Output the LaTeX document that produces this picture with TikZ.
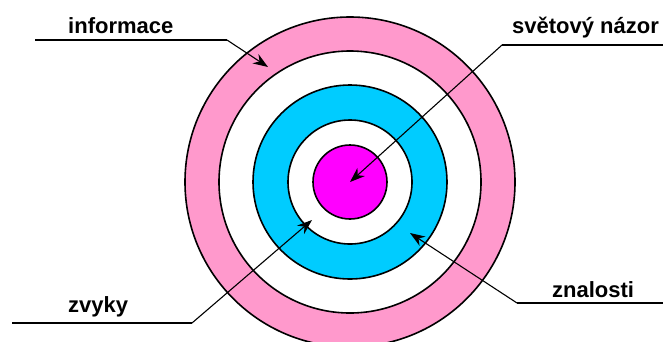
\documentclass[tikz,border=0pt]{standalone}
\usepackage{fontspec}
\setmainfont{Liberation Sans}
\usetikzlibrary{arrows.meta}
\definecolor{ringpink}{HTML}{FF99CC}
\definecolor{ringblue}{HTML}{00CCFF}
\definecolor{ringmag}{HTML}{FF00FF}

\begin{document}
\begin{tikzpicture}[x=1pt,y=-1pt,
  ring/.style={draw=black,line width=1.6pt},
  lbl/.style={anchor=base west,inner sep=0pt,font=\fontsize{22}{25}\selectfont\bfseries},
  rule/.style={line width=2pt},
  pointer/.style={line width=1.1pt,-{Stealth[length=15pt,width=11pt]}}]
\useasboundingbox (0,0) rectangle (663,341);
\begin{scope}
\clip (0,0) rectangle (663,341);
\coordinate (c) at (350,182);
% rings, outside in
\fill[ringpink,ring] (c) circle[radius=165pt];
\fill[white,ring] (c) circle[radius=131pt];
\fill[ringblue,ring] (c) circle[radius=97pt];
\fill[white,ring] (c) circle[radius=62pt];
\fill[ringmag,ring] (c) circle[radius=37pt];
\end{scope}
% labels
\node[lbl] (inf) at (68,33) {informace};
\node[lbl] (nazor) at (512,33) {světový názor};
\node[lbl] (zvyky) at (68,312) {zvyky};
\node[lbl] (znal) at (552,297) {znalosti};
% leader lines
\coordinate (inf-a) at (35,40);  \coordinate (inf-b) at (227,40);  \coordinate (inf-t) at (268,67);
\coordinate (naz-a) at (663,45); \coordinate (naz-b) at (502,45);
\coordinate (zv-a) at (12,323);  \coordinate (zv-b) at (192,323);  \coordinate (zv-t) at (312,220);
\coordinate (zn-a) at (663,303); \coordinate (zn-b) at (517,303);  \coordinate (zn-t) at (410,233);
\draw[rule] (inf-a) -- (inf-b);
\draw[rule] (naz-a) -- (naz-b);
\draw[rule] (zv-a) -- (zv-b);
\draw[rule] (zn-a) -- (zn-b);
\draw[pointer] (inf-b) -- (inf-t);
\draw[pointer] (naz-b) -- (c);
\draw[pointer] (zv-b) -- (zv-t);
\draw[pointer] (zn-b) -- (zn-t);
\end{tikzpicture}
\end{document}
